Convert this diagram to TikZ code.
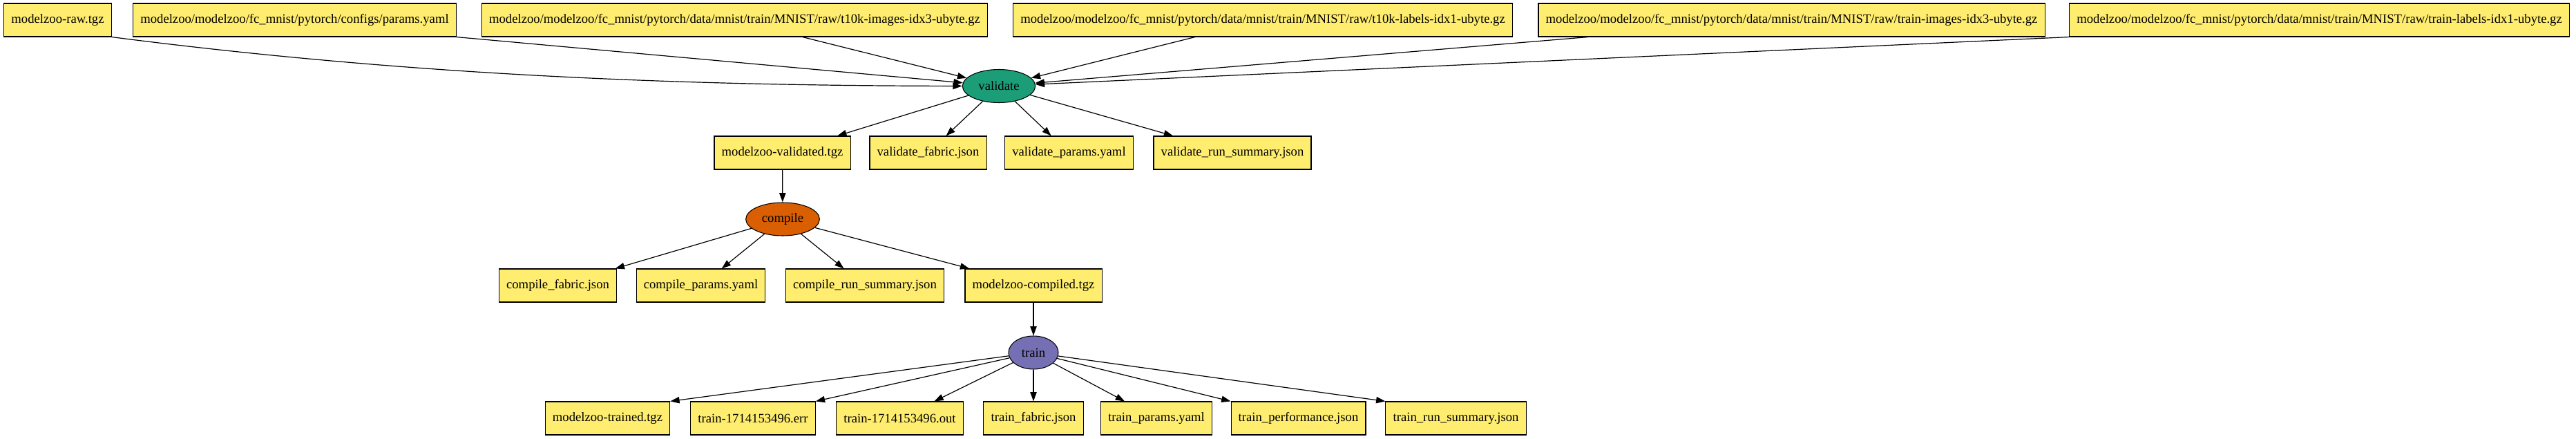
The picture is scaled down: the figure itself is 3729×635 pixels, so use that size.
\documentclass[tikz,border=0pt]{standalone}
\usepackage{fontspec}
\setmainfont{Liberation Serif}
\usepackage{tikz}
\usetikzlibrary{shapes,arrows.meta,positioning,shapes.geometric}
\definecolor{fileyellow}{RGB}{255, 237, 111}
\definecolor{taskgreen}{RGB}{27, 158, 119}
\definecolor{taskorange}{RGB}{217, 95, 2}
\definecolor{taskpurple}{RGB}{117, 112, 179}

\begin{document}
\begin{tikzpicture}[
        x=0.75pt, y=-0.75pt,
        filebox/.style={draw=black, fill=fileyellow, line width=0.8pt, rectangle, minimum height=36pt, inner xsep=8pt, inner ysep=0pt, font=\fontsize{14}{16}\selectfont},
        task/.style={draw=black, line width=0.8pt, ellipse, minimum height=36pt, inner sep=0pt, font=\fontsize{14}{16}\selectfont},
        arr/.style={line width=0.9pt, -{Triangle[length=10pt, width=7pt]}, color=black}
    ]
        \useasboundingbox (0,0) rectangle (3729,635);
        % Nodes
        \node[filebox] (raw) at (83.5, 29) {modelzoo-raw.tgz};
        \node[filebox] (params) at (426.5, 29) {modelzoo/modelzoo/fc\_mnist/pytorch/configs/params.yaml};
        \node[filebox] (timg) at (1063.5, 29) {modelzoo/modelzoo/fc\_mnist/pytorch/data/mnist/train/MNIST/raw/t10k-images-idx3-ubyte.gz};
        \node[filebox] (tlbl) at (1828, 29) {modelzoo/modelzoo/fc\_mnist/pytorch/data/mnist/train/MNIST/raw/t10k-labels-idx1-ubyte.gz};
        \node[filebox] (trimg) at (2593.5, 29) {modelzoo/modelzoo/fc\_mnist/pytorch/data/mnist/train/MNIST/raw/train-images-idx3-ubyte.gz};
        \node[filebox] (trlbl) at (3357.5, 29) {modelzoo/modelzoo/fc\_mnist/pytorch/data/mnist/train/MNIST/raw/train-labels-idx1-ubyte.gz};

        \node[task, fill=taskgreen, minimum width=79pt] (validate) at (1446, 124.5) {validate};

        \node[filebox] (validated) at (1132.5, 221) {modelzoo-validated.tgz};
        \node[filebox] (vfabric) at (1343.5, 221) {validate\_fabric.json};
        \node[filebox] (vparams) at (1547.5, 221) {validate\_params.yaml};
        \node[filebox] (vsummary) at (1784, 221) {validate\_run\_summary.json};

        \node[task, fill=taskorange, minimum width=80pt] (compile) at (1133, 317) {compile};

        \node[filebox] (cfabric) at (807.5, 413) {compile\_fabric.json};
        \node[filebox] (cparams) at (1014.5, 413) {compile\_params.yaml};
        \node[filebox] (csummary) at (1252, 413) {compile\_run\_summary.json};
        \node[filebox] (compiled) at (1496, 413) {modelzoo-compiled.tgz};

        \node[task, fill=taskpurple, minimum width=54pt] (train) at (1496, 510) {train};

        \node[filebox] (trained) at (879.5, 605) {modelzoo-trained.tgz};
        \node[filebox] (terr) at (1090, 605) {train-1714153496.err};
        \node[filebox] (tout) at (1302.5, 605) {train-1714153496.out};
        \node[filebox] (tfabric) at (1496, 605) {train\_fabric.json};
        \node[filebox] (tparams) at (1674, 605) {train\_params.yaml};
        \node[filebox] (tperf) at (1879.5, 605) {train\_performance.json};
        \node[filebox] (tsummary) at (2107.5, 605) {train\_run\_summary.json};

        % Connectors
        \draw[arr] (raw.south east) .. controls (600, 110) and (1000, 124) .. (validate);
        \draw[arr] (params.south east) -- (validate);
        \draw[arr] (timg) -- (validate);
        \draw[arr] (tlbl) -- (validate);
        \draw[arr] (trimg) -- (validate);
        \draw[arr] (trlbl.south west) -- (validate);

        \draw[arr] (validate) -- (validated);
        \draw[arr] (validate) -- (vfabric);
        \draw[arr] (validate) -- (vparams);
        \draw[arr] (validate) -- (vsummary);

        \draw[arr] (validated) -- (compile);
        \draw[arr] (compile) -- (cfabric);
        \draw[arr] (compile) -- (cparams);
        \draw[arr] (compile) -- (csummary);
        \draw[arr] (compile) -- (compiled);

        \draw[arr] (compiled) -- (train);
        \draw[arr] (train) -- (trained.north east);
        \draw[arr] (train) -- (terr.north east);
        \draw[arr] (train) -- (tout);
        \draw[arr] (train) -- (tfabric);
        \draw[arr] (train) -- (tparams);
        \draw[arr] (train) -- (tperf.north west);
        \draw[arr] (train) -- (tsummary.north west);
    \end{tikzpicture}
\end{document}
